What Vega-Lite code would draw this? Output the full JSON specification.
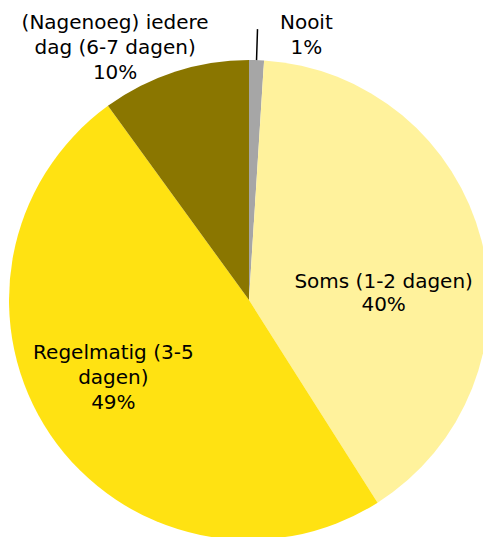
{
  "$schema": "https://vega.github.io/schema/vega-lite/v6.json",
  "autosize": {"type": "none"},
  "padding": 0,
  "width": 498,
  "height": 600,
  "background": "white",
  "config": {"view": {"stroke": null}},
  "data": {
    "values": [
      {"cat": "Nooit", "idx": 1, "value": 1, "label": "Nooit\n1%"},
      {"cat": "Soms", "idx": 2, "value": 40, "label": "Soms (1-2 dagen)\n40%"},
      {"cat": "Regelmatig", "idx": 3, "value": 49, "label": "Regelmatig (3-5\ndagen)\n49%"},
      {"cat": "Nagenoeg", "idx": 4, "value": 10, "label": "(Nagenoeg) iedere\ndag (6-7 dagen)\n10%"}
    ]
  },
  "encoding": {
    "theta": {"field": "value", "type": "quantitative", "stack": true},
    "order": {"field": "idx", "type": "quantitative"}
  },
  "layer": [
    {
      "mark": {"type": "arc", "radius": 240},
      "encoding": {
        "color": {
          "field": "cat", "type": "nominal", "legend": null,
          "scale": {"domain": ["Nooit", "Soms", "Regelmatig", "Nagenoeg"], "range": ["#A6A6A6", "#FFF29C", "#FFE212", "#8A7600"]}
        }
      }
    },
    {
      "mark": {"type": "arc", "radius": 240, "radius2": 271, "padAngle": 0.1, "fillOpacity": 0, "strokeWidth": 1.5},
      "encoding": {
        "detail": {"field": "cat", "type": "nominal"},
        "stroke": {"condition": {"test": "datum.cat === 'Nooit'", "value": "black"}, "value": "transparent"}
      }
    },
    {
      "mark": {"type": "text", "radius": 266, "dx": 49, "dy": -11, "font": "DejaVu Sans", "fontSize": 20, "lineBreak": "\n", "lineHeight": 25, "align": "center", "baseline": "middle", "fill": "black"},
      "encoding": {
        "detail": {"field": "cat", "type": "nominal"},
        "text": {"condition": {"test": "datum.cat === 'Nooit'", "field": "label"}, "value": ""}
      }
    },
    {
      "mark": {"type": "text", "radius": 139, "dx": 0, "dy": 17, "font": "DejaVu Sans", "fontSize": 20, "lineBreak": "\n", "lineHeight": 23, "align": "center", "baseline": "middle", "fill": "black"},
      "encoding": {
        "detail": {"field": "cat", "type": "nominal"},
        "text": {"condition": {"test": "datum.cat === 'Soms'", "field": "label"}, "value": ""}
      }
    },
    {
      "mark": {"type": "text", "radius": 164, "dx": 0, "dy": -39, "font": "DejaVu Sans", "fontSize": 20, "lineBreak": "\n", "lineHeight": 25, "align": "center", "baseline": "middle", "fill": "black"},
      "encoding": {
        "detail": {"field": "cat", "type": "nominal"},
        "text": {"condition": {"test": "datum.cat === 'Regelmatig'", "field": "label"}, "value": ""}
      }
    },
    {
      "mark": {"type": "text", "radius": 265, "dx": -52, "dy": -25, "font": "DejaVu Sans", "fontSize": 20, "lineBreak": "\n", "lineHeight": 25, "align": "center", "baseline": "middle", "fill": "black"},
      "encoding": {
        "detail": {"field": "cat", "type": "nominal"},
        "text": {"condition": {"test": "datum.cat === 'Nagenoeg'", "field": "label"}, "value": ""}
      }
    }
  ]
}
